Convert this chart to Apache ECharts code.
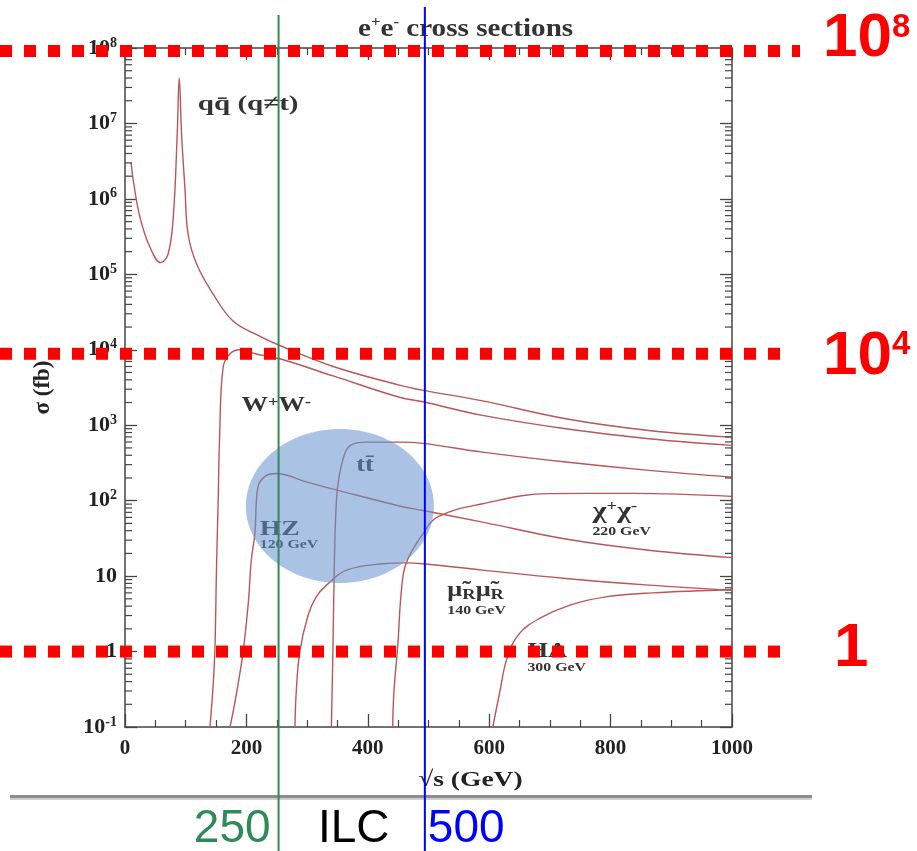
<!DOCTYPE html>
<html><head><meta charset="utf-8">
<script src="https://cdn.jsdelivr.net/npm/echarts@6/dist/echarts.min.js"></script>
<style>html,body{margin:0;padding:0;background:#fff}#c{width:917px;height:851px}</style>
</head><body><div id="c"></div>
<script>
// ---- axis ticks ----
const xRange = [0, 1000];
const yRange = [0.1, 1e8];
const minorDecades = [-1, 0, 1, 2, 3, 4, 5, 6, 7];
const minorMultipliers = [2, 3, 4, 5, 6, 7, 8, 9];

// ---- cross-section curves: [sqrt(s) GeV, sigma fb] ----
const qqbar = [[10,3.0e6],[13.7,1.74e6],[24.7,5.7e5],[41,2.3e5],[59,1.43e5],[71,1.86e5],[79.5,5.7e5],[86,7.2e6],[89.4,4.0e7],[93.2,7.2e6],[98.7,1.4e6],[104,3.4e5],[118,1.37e5],[145,5.5e4],[178,2.4e4],[216,1.6e4],[255,1.14e4],[343,6.0e3],[452,3.4e3],[491,2.9e3],[589,2.1e3],[726,1.22e3],[863,853],[1000,695]];
const wpwm = [[140,0.1],[145,0.34],[148,1.0],[151,16],[153.5,100],[156,770],[161.7,5.9e3],[172.7,8.8e3],[189,1.0e4],[216,8.8e3],[255,7.6e3],[343,4.5e3],[452,2.35e3],[491,2.05e3],[589,1.35e3],[726,898],[863,662],[1000,540]];
const hz = [[173,0.1],[183.7,0.28],[194.6,1.0],[203,4.3],[208,16],[214,37],[219,151],[233,216],[249,229],[300,176],[351,137],[452,85],[491,74],[589,52],[726,31],[863,22],[1000,17.6]];
const ttbar = [[340,0.1],[342.5,1.0],[345,16],[347,60],[351,168],[362,420],[375,560],[397,597],[452,597],[491,575],[589,440],[726,325],[863,252],[1000,205]];
const smuon = [[280,0.1],[282,0.28],[288,1.0],[301.5,3.0],[315,5.3],[332,7.6],[365,12],[425,14.6],[463,15],[491,14.6],[589,12],[726,9.3],[863,7.6],[1000,6.5]];
const chargino = [[441,0.1],[442.9,0.28],[449.6,1.28],[455,5.9],[463,14.7],[491,36.6],[515,61],[589,91],[699,124],[836,125],[1000,114]];
const higgsHA = [[606,0.1],[617,0.28],[630,0.85],[650,1.74],[683,2.75],[732,4.1],[792,5.3],[869,6.0],[1000,6.6]];

// ---- annotations ----
const highlightLevels = [1e8, 1e4, 1];
const highlightSup = ['8', '4', ''];
const highlightBase = ['10', '10', '1'];
const ilcEnergies = [253, 494];      // drawn positions of the 250 / 500 GeV lines
const ilcLabels = ['250', '500'];
const curveLabels = [
  {x:120, y:1.8e7, text:'{q|qq̄ (q≠t)}'},
  {x:192, y:1.8e3, text:'{b|W}{s|+}{b|W}{s|-}'},
  {x:381, y:293, text:'{b|tt̄}'},
  {x:222, y:41.7, text:'{h|HZ}'},
  {x:222, y:25.6, text:'{m|120 GeV}'},
  {x:770, y:70, text:'{c|χ}{s|+}{c|χ}{s|-}'},
  {x:770, y:38, text:'{m|220 GeV}'},
  {x:531, y:6.3, text:'{b|μ̃}{u|R}{b|μ̃}{u|R}'},
  {x:531, y:3.5, text:'{m|140 GeV}'},
  {x:663, y:1.0, text:'{b|HA}'},
  {x:663, y:0.6, text:'{m|300 GeV}'}
];
const ellipseCenter = [354, 85];

const SERIF = '"Liberation Serif","DejaVu Serif",serif';
const AX = '#444';
const CURVE = '#b95757';
const STRETCH = 1.32;

const chart = echarts.init(document.getElementById('c'), null, {renderer:'canvas'});

const minorY = [];
minorDecades.forEach(d => minorMultipliers.forEach(m => minorY.push([0, m * Math.pow(10, d)])));

function curve(name, data){
  return {name, type:'line', data, showSymbol:false, symbol:'none', smooth:0.4,
    lineStyle:{color:CURVE, width:1.4}, z:3, silent:true};
}

const yLabelRich = {
  b:{fontFamily:SERIF, fontWeight:'bold', fontSize:22, color:'#222', lineHeight:24},
  s:{fontFamily:SERIF, fontWeight:'bold', fontSize:14, color:'#222', verticalAlign:'top', lineHeight:13}
};

chart.setOption({
  animation:false,
  backgroundColor:'#fff',
  grid:{left:125, right:185, top:48, bottom:124, containLabel:false},
  xAxis:[{
    type:'value', min:xRange[0], max:xRange[1], interval:200,
    axisLine:{show:true, lineStyle:{color:AX, width:1.5}},
    axisTick:{show:true, inside:true, length:13, lineStyle:{color:AX, width:1.3}},
    minorTick:{show:true, splitNumber:4, length:7, lineStyle:{color:AX, width:1.2}},
    splitLine:{show:false},
    axisLabel:{margin:11, fontFamily:SERIF, fontWeight:'bold', fontSize:21, color:'#222', formatter:v => String(v)}
  },{
    type:'value', position:'top', min:xRange[0], max:xRange[1], interval:200,
    axisLine:{show:true, onZero:false, lineStyle:{color:AX, width:1.5}},
    axisTick:{show:true, inside:true, length:12, lineStyle:{color:AX, width:1.3}},
    minorTick:{show:true, splitNumber:4, length:7, lineStyle:{color:AX, width:1.2}},
    splitLine:{show:false}, axisLabel:{show:false}
  }],
  yAxis:[{
    type:'log', logBase:10, min:yRange[0], max:yRange[1], splitNumber:9,
    axisLine:{show:true, onZero:false, lineStyle:{color:AX, width:1.5}},
    axisTick:{show:true, inside:true, length:12, lineStyle:{color:AX, width:1.3}},
    minorTick:{show:false},
    splitLine:{show:false},
    axisLabel:{margin:8, formatter:v => {
      const n = Math.round(Math.log10(v));
      if (n === 0) return '{b|1}';
      if (n === 1) return '{b|10}';
      return '{b|10}{s|' + n + '}';
    }, rich:yLabelRich},
    name:'σ (fb)', nameLocation:'middle', nameGap:70, nameRotate:90,
    nameTextStyle:{fontFamily:SERIF, fontWeight:'bold', fontSize:23, color:'#222'}
  },{
    type:'log', logBase:10, position:'right', min:yRange[0], max:yRange[1], splitNumber:9,
    axisLine:{show:true, onZero:false, lineStyle:{color:AX, width:1.5}},
    axisTick:{show:true, inside:true, length:12, lineStyle:{color:AX, width:1.3}},
    minorTick:{show:false},
    splitLine:{show:false}, axisLabel:{show:false}
  }],
  series:[
    curve('qq', qqbar), curve('WW', wpwm), curve('HZ', hz), curve('tt', ttbar),
    curve('smuon', smuon), curve('chargino', chargino), curve('HA', higgsHA),
    {
      type:'custom', data:minorY, silent:true, z:4, clip:false,
      renderItem:(params, api) => {
        const v = api.value(1);
        const l = api.coord([xRange[0], v]);
        const r = api.coord([xRange[1], v]);
        return {type:'group', children:[
          {type:'line', shape:{x1:l[0], y1:l[1], x2:l[0] + 7, y2:l[1]}, style:{stroke:AX, lineWidth:1.2}},
          {type:'line', shape:{x1:r[0], y1:r[1], x2:r[0] - 7, y2:r[1]}, style:{stroke:AX, lineWidth:1.2}}
        ]};
      }
    }
  ]
});

const P = (x, y) => chart.convertToPixel({gridIndex:0}, [x, y]);
const g = [];

// title (stretched like the scanned figure)
g.push({type:'text', x:358, y:29, scaleX:1.12, z:6, style:{
  text:'{b|e}{s|+}{b|e}{s|-}{b| cross sections}', align:'left', verticalAlign:'middle',
  rich:{
    b:{fontFamily:SERIF, fontWeight:'bold', fontSize:26, fill:'#333', lineHeight:28},
    s:{fontFamily:SERIF, fontWeight:'bold', fontSize:15, fill:'#333', verticalAlign:'top', lineHeight:14}
  }}});

// gray scan edge
g.push({type:'rect', shape:{x:10, y:795, width:802, height:3}, style:{fill:'#8c8c8c'}, z:5});
g.push({type:'rect', shape:{x:10, y:798, width:802, height:2}, style:{fill:'#cfcfcf'}, z:5});

// x axis name
const xn = P(569, 0.1);
g.push({type:'text', x:xn[0], y:xn[1] + 53, scaleX:1.25, z:6,
  style:{text:'√s (GeV)', font:'bold 22px ' + SERIF, fill:'#222', align:'center', verticalAlign:'middle'}});

// curve labels
const labRich = {
  q:{fontFamily:SERIF, fontWeight:'bold', fontSize:22, fill:'#333', lineHeight:24},
  b:{fontFamily:SERIF, fontWeight:'bold', fontSize:20, fill:'#333', lineHeight:22},
  h:{fontFamily:SERIF, fontWeight:'bold', fontSize:21, fill:'#333', lineHeight:24},
  c:{fontFamily:SERIF, fontWeight:'bold', fontSize:23, fill:'#333', lineHeight:26},
  s:{fontFamily:SERIF, fontWeight:'bold', fontSize:14, fill:'#333', verticalAlign:'top', lineHeight:12},
  u:{fontFamily:SERIF, fontWeight:'bold', fontSize:14, fill:'#333', verticalAlign:'bottom', lineHeight:14},
  m:{fontFamily:SERIF, fontWeight:'bold', fontSize:12, fill:'#333', lineHeight:13}
};
curveLabels.forEach(c => {
  const p = P(c.x, c.y);
  g.push({type:'text', x:p[0], y:p[1], scaleX:STRETCH, z:20,
    style:{text:c.text, rich:labRich, align:'left', verticalAlign:'middle'}});
});

// blue ellipse highlight
const ec = P(ellipseCenter[0], ellipseCenter[1]);
g.push({type:'ellipse', shape:{cx:ec[0], cy:ec[1], rx:94, ry:77}, style:{fill:'rgba(100,145,205,0.55)'}, z:30});

// red dotted level lines and labels
const lineEnds = [800, 780, 780];
const lineOff = [3, 4, 0];
const labOff = [-12, 3, -3];
const NARROW = '"Liberation Sans Narrow","Liberation Sans",Arial,sans-serif';
highlightLevels.forEach((lv, i) => {
  const y = P(0, lv)[1] + lineOff[i];
  g.push({type:'line', shape:{x1:0, y1:y, x2:lineEnds[i], y2:y},
    style:{stroke:'#ff0000', lineWidth:12, lineDash:[12, 12], lineCap:'butt'}, z:40});
  const text = highlightSup[i] ? '{a|' + highlightBase[i] + '}{s|' + highlightSup[i] + '}' : '{a|' + highlightBase[i] + '}';
  g.push({type:'text', x: highlightSup[i] ? 823 : 834, y: y + labOff[i], z:41,
    style:{text, align:'left', verticalAlign:'middle', rich:{
      a:{fontFamily:NARROW, fontWeight:'bold', fontSize:62, fill:'#ff0000', lineHeight:56},
      s:{fontFamily:NARROW, fontWeight:'bold', fontSize:33, fill:'#ff0000', verticalAlign:'top', lineHeight:30}
    }}});
});

// ILC vertical lines
const gx = P(ilcEnergies[0], 1)[0];
const bx = P(ilcEnergies[1], 1)[0];
g.push({type:'line', shape:{x1:gx, y1:15, x2:gx, y2:851}, style:{stroke:'#2e8b57', lineWidth:2}, z:50});
g.push({type:'line', shape:{x1:bx, y1:7, x2:bx, y2:851}, style:{stroke:'#0000ff', lineWidth:2}, z:50});
const big = 'normal 46px "Liberation Sans",Arial,sans-serif';
g.push({type:'text', x:gx - 8, y:829, style:{text:ilcLabels[0], font:big, fill:'#2e8b57', align:'right', verticalAlign:'middle'}, z:51});
g.push({type:'text', x:(gx + bx) / 2 + 2, y:829, style:{text:'ILC', font:big, fill:'#000', align:'center', verticalAlign:'middle'}, z:51});
g.push({type:'text', x:bx + 3, y:829, style:{text:ilcLabels[1], font:big, fill:'#0000ff', align:'left', verticalAlign:'middle'}, z:51});

chart.setOption({graphic:g});
</script>
</body></html>
